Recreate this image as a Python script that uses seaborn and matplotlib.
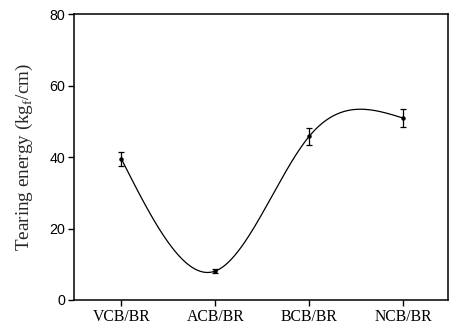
import numpy as np
import pandas as pd
import matplotlib
matplotlib.use("Agg")
import matplotlib.pyplot as plt
import seaborn as sns

# Data
categories = ["VCB/BR", "ACB/BR", "BCB/BR", "NCB/BR"]
energy = [39.4, 8.1, 45.8, 50.9]
energy_err = [2.0, 0.5, 2.4, 2.6]
y_ticks = [0, 20, 40, 60, 80]

sns.set_style("ticks")

x = np.arange(len(categories), dtype=float)
y = np.array(energy, dtype=float)

# natural cubic spline through the points (like Origin's spline connector)
n = len(x)
h = np.diff(x)
A = np.zeros((n, n))
b = np.zeros(n)
A[0, 0] = 1
A[-1, -1] = 1
for i in range(1, n - 1):
    A[i, i - 1] = h[i - 1]
    A[i, i] = 2 * (h[i - 1] + h[i])
    A[i, i + 1] = h[i]
    b[i] = 6 * ((y[i + 1] - y[i]) / h[i] - (y[i] - y[i - 1]) / h[i - 1])
M = np.linalg.solve(A, b)
xs, ys = [], []
for i in range(n - 1):
    t = np.linspace(0, 1, 80)
    hi = h[i]
    xi = x[i] + t * hi
    yi = (y[i] * (1 - t) + y[i + 1] * t
          + hi ** 2 / 6 * (((1 - t) ** 3 - (1 - t)) * M[i] + (t ** 3 - t) * M[i + 1]))
    xs.append(xi)
    ys.append(yi)
curve = pd.DataFrame({"x": np.concatenate(xs), "y": np.concatenate(ys)})

fig = plt.figure(figsize=(4.49, 3.27), dpi=100)
ax = fig.add_axes([0.1648, 0.0826, 0.832, 0.8744])

sns.lineplot(data=curve, x="x", y="y", ax=ax, color="black", linewidth=0.9,
             sort=False, estimator=None)
ax.errorbar(x, y, yerr=energy_err, fmt="o", color="black", markersize=2.2,
            elinewidth=0.9, capsize=2.5, capthick=0.9)

ax.set_xlim(-0.506, 3.474)
ax.set_ylim(0, 80)
ax.set_xticks(x)
ax.set_xticklabels(categories, family="Liberation Serif", fontsize=11.3)
ax.set_yticks(y_ticks)
ax.set_yticklabels([str(v) for v in y_ticks], family="Liberation Sans",
                   fontsize=10.3)
ax.set_xlabel("")
ax.set_ylabel(r"Tearing energy (kg$_\mathregular{f}$/cm)",
              family="Liberation Serif", fontsize=13.8, labelpad=10)

for s in ax.spines.values():
    s.set_visible(True)
    s.set_linewidth(1.1)
    s.set_color("black")
ax.tick_params(axis="both", direction="out", length=4, width=1.0,
               colors="black", pad=2.5)
ax.tick_params(top=False, right=False)

fig.savefig("out.png", dpi=100)
